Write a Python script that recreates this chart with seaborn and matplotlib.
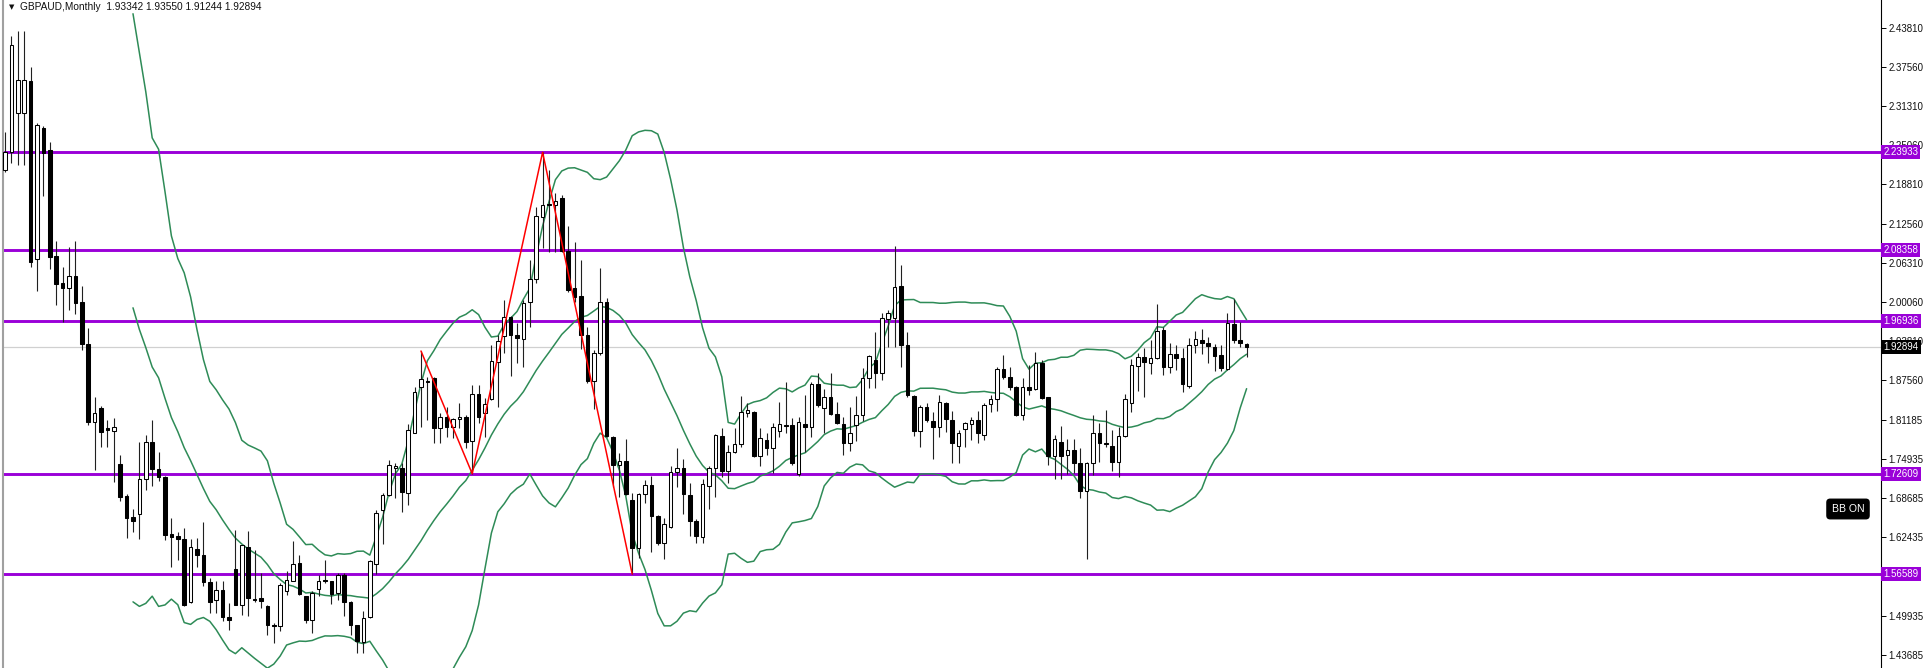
import numpy as np
import pandas as pd
import matplotlib
matplotlib.use("Agg")
import matplotlib.pyplot as plt
import matplotlib.transforms as mtrans
import seaborn as sns

# ---------------- data ----------------
symbol_title = "GBPAUD,Monthly  1.93342 1.93550 1.91244 1.92894"

open_ = [2.2111, 2.2404, 2.3026, 2.3026, 2.3537, 2.0685, 2.2777, 2.2431, 2.0738, 2.0302,
         2.0222, 2.0418, 2.0008, 1.9328, 1.8092, 1.8306, 1.7992, 1.7939, 1.7411, 1.6899,
         1.6573, 1.6613, 1.7172, 1.7771, 1.7341, 1.7205, 1.6300, 1.6267, 1.6218, 1.5219,
         1.6062, 1.5966, 1.5532, 1.5239, 1.5410, 1.4968, 1.5745, 1.5170, 1.6086, 1.5266,
         1.5277, 1.5144, 1.4840, 1.4824, 1.5383, 1.5554, 1.5836, 1.5303, 1.4931, 1.5426,
         1.5564, 1.5543, 1.5357, 1.5649, 1.5213, 1.4840, 1.4574, 1.4968, 1.5820, 1.6687,
         1.6927, 1.7353, 1.7353, 1.6953, 1.7917, 1.8651, 1.8742, 1.8795, 1.7986, 1.8172,
         1.8013, 1.8130, 1.8172, 1.7789, 1.8534, 1.8236, 1.8449, 1.9051, 1.9460, 1.9759,
         1.9476, 1.9407, 2.0009, 2.0366, 2.1366, 2.1568, 2.1552, 2.1659, 2.0823, 2.0222,
         2.0105, 1.9476, 1.8747, 1.9184, 2.0009, 1.7853, 1.7400, 1.7469, 1.6841, 1.6070,
         1.6937, 1.7081, 1.6586, 1.6160, 1.6415, 1.7294, 1.7347, 1.6921, 1.6511, 1.6256,
         1.7065, 1.7347, 1.7863, 1.7310, 1.7613, 1.7730, 1.8225, 1.8252, 1.7544, 1.7800,
         1.7667, 1.7949, 1.8034, 1.8039, 1.7257, 1.8055, 1.8012, 1.8694, 1.8305, 1.8481,
         1.8215, 1.8055, 1.7746, 1.8039, 1.8199, 1.8784, 1.9077, 1.8875, 1.9727, 1.9742,
         2.0259, 1.9317, 1.8502, 1.7949, 1.8332, 1.8108, 1.8013, 1.8385, 1.8119, 1.7704,
         1.7970, 1.8055, 1.8119, 1.7879, 1.8375, 1.8449, 1.8928, 1.8800, 1.8641, 1.8199,
         1.8651, 1.8609, 1.9024, 1.8481, 1.7544, 1.7773, 1.7560, 1.7640, 1.7427, 1.6990,
         1.7427, 1.7906, 1.7757, 1.7704, 1.7454, 1.7864, 1.8396, 1.8981, 1.9120, 1.9034,
         1.9104, 1.9556, 1.8960, 1.9173, 1.9104, 1.8662, 1.9317, 1.9397, 1.9354, 1.9290,
         1.9157, 1.8928, 1.9652, 1.9397, 1.93342]
high = [2.2723, 2.4251, 2.4336, 2.4336, 2.3761, 2.2857, 2.2814, 2.2563, 2.0982, 2.0567,
        2.0877, 2.0982, 2.0259, 1.9583, 1.8481, 1.8342, 1.8119, 1.8146, 1.7560, 1.6937,
        1.6698, 1.7763, 1.7886, 1.8124, 1.7600, 1.7230, 1.6559, 1.6335, 1.6389, 1.6218,
        1.6239, 1.6490, 1.5596, 1.5543, 1.5543, 1.5197, 1.6368, 1.6129, 1.6352, 1.6049,
        1.5676, 1.5160, 1.4878, 1.5516, 1.5713, 1.6182, 1.5969, 1.5310, 1.5383, 1.5649,
        1.5889, 1.5550, 1.5676, 1.5676, 1.5220, 1.4850, 1.5074, 1.5889, 1.6687, 1.6953,
        1.7486, 1.7433, 1.7433, 1.8055, 1.8651, 1.9220, 1.8811, 1.8811, 1.8225, 1.8332,
        1.8146, 1.8385, 1.8199, 1.8678, 1.8678, 1.8465, 1.9317, 1.9476, 2.0035, 1.9780,
        1.9663, 2.0035, 2.0674, 2.1515, 2.23933, 2.2111, 2.1739, 2.1712, 2.1217, 2.0967,
        2.0674, 1.9610, 1.9237, 2.0541, 2.0062, 1.7870, 1.7587, 1.7810, 1.6948, 1.6958,
        1.7161, 1.7225, 1.6600, 1.6549, 1.7384, 1.7667, 1.7491, 1.7118, 1.6530, 1.7171,
        1.7384, 1.7895, 1.7996, 1.7720, 1.7986, 1.8502, 1.8385, 1.8268, 1.7986, 1.7906,
        1.8076, 1.8412, 1.8731, 1.8145, 1.8172, 1.8518, 1.8731, 1.8864, 1.8609, 1.8875,
        1.8412, 1.8172, 1.8332, 1.8502, 1.8944, 1.9157, 1.9530, 1.9822, 1.9876, 2.0898,
        2.0594, 1.9530, 1.8518, 1.8359, 1.8385, 1.8252, 1.8518, 1.8412, 1.8268, 1.7959,
        1.8093, 1.8172, 1.8268, 1.8385, 1.8518, 1.8960, 1.9157, 1.8960, 1.8662, 1.8784,
        1.8997, 1.9210, 1.9077, 1.8492, 1.7879, 1.8026, 1.7810, 1.7810, 1.7667, 1.7454,
        1.8199, 1.8076, 1.8279, 1.7959, 1.8013, 1.8534, 1.9088, 1.9184, 1.9264, 1.9397,
        1.9971, 1.9610, 1.9354, 1.9317, 1.9264, 1.9423, 1.9546, 1.9567, 1.9450, 1.9333,
        1.9317, 1.9822, 2.0046, 1.9689, 1.93550]
low = [2.2080, 2.2223, 2.2191, 2.2191, 2.0567, 2.0179, 2.1696, 2.0526, 1.9955, 1.9689,
       1.9876, 1.9812, 1.9237, 1.8039, 1.7320, 1.7693, 1.7693, 1.7134, 1.6832, 1.6239,
       1.6335, 1.6218, 1.7001, 1.7070, 1.7151, 1.6198, 1.5776, 1.5883, 1.5150, 1.5200,
       1.5776, 1.5471, 1.5037, 1.5037, 1.4904, 1.4771, 1.5160, 1.5010, 1.4984, 1.5213,
       1.5117, 1.4691, 1.4558, 1.4745, 1.5330, 1.5543, 1.5330, 1.4878, 1.4718, 1.5303,
       1.5516, 1.5181, 1.5250, 1.4990, 1.4680, 1.4398, 1.4398, 1.4957, 1.5660, 1.6139,
       1.6900, 1.6874, 1.6650, 1.6757, 1.7906, 1.8013, 1.8119, 1.7746, 1.7746, 1.7853,
       1.7826, 1.7986, 1.7667, 1.72609, 1.8066, 1.7853, 1.8438, 1.8332, 1.9184, 1.8822,
       1.9024, 1.8971, 1.9610, 2.0302, 2.0860, 2.0807, 2.0807, 2.0807, 2.0168, 2.0009,
       1.9247, 1.8705, 1.8289, 1.9157, 1.7853, 1.7054, 1.6895, 1.6921, 1.56589, 1.5910,
       1.6799, 1.6016, 1.6123, 1.5894, 1.6389, 1.7044, 1.6618, 1.6267, 1.6160, 1.6160,
       1.6692, 1.6895, 1.7214, 1.7108, 1.7587, 1.7693, 1.8162, 1.7523, 1.7384, 1.7560,
       1.7267, 1.7842, 1.7906, 1.7400, 1.7225, 1.7613, 1.7853, 1.8332, 1.7909, 1.8199,
       1.8055, 1.7560, 1.7629, 1.7789, 1.8108, 1.8625, 1.8625, 1.8758, 1.9290, 1.9290,
       1.8960, 1.8492, 1.7863, 1.7693, 1.8093, 1.7491, 1.7842, 1.7933, 1.7427, 1.7427,
       1.7693, 1.7799, 1.7746, 1.7799, 1.8252, 1.8268, 1.8768, 1.8598, 1.8183, 1.8119,
       1.8518, 1.8598, 1.8449, 1.7400, 1.7172, 1.7172, 1.7257, 1.7267, 1.6868, 1.5894,
       1.7241, 1.7454, 1.7693, 1.7310, 1.7214, 1.7853, 1.8252, 1.8587, 1.8492, 1.8854,
       1.9088, 1.8838, 1.8864, 1.8917, 1.8571, 1.8625, 1.9194, 1.9173, 1.9035, 1.8907,
       1.8907, 1.8917, 1.9343, 1.9290, 1.91244]
close = [2.2404, 2.4107, 2.3548, 2.3548, 2.0647, 2.2830, 2.2388, 2.0727, 2.0291, 2.0222,
         2.0418, 1.9982, 1.9328, 1.8092, 1.8226, 1.7932, 1.7955, 1.8003, 1.6884, 1.6559,
         1.6511, 1.7172, 1.7771, 1.7341, 1.7205, 1.6287, 1.6252, 1.6218, 1.5165, 1.6083,
         1.5966, 1.5538, 1.5213, 1.5410, 1.4968, 1.4931, 1.5170, 1.6118, 1.5277, 1.5239,
         1.5224, 1.4840, 1.4824, 1.5490, 1.5570, 1.5820, 1.5341, 1.4931, 1.5357, 1.5554,
         1.5543, 1.5341, 1.5649, 1.5213, 1.4840, 1.4585, 1.4957, 1.5862, 1.6634, 1.6927,
         1.7406, 1.7379, 1.6970, 1.7965, 1.8571, 1.8768, 1.8721, 1.7986, 1.8172, 1.8002,
         1.8130, 1.8162, 1.7773, 1.8534, 1.8172, 1.8374, 1.9067, 1.9386, 1.9759, 1.9476,
         1.9423, 1.9993, 2.0366, 2.1382, 2.1552, 2.1547, 2.1616, 2.0823, 2.0195, 2.0089,
         1.9476, 1.8747, 1.9194, 2.0009, 1.7864, 1.7400, 1.7470, 1.6937, 1.6070, 1.6937,
         1.7081, 1.6586, 1.6160, 1.6458, 1.7294, 1.7347, 1.6937, 1.6511, 1.6267, 1.7097,
         1.7347, 1.7880, 1.7310, 1.7613, 1.7730, 1.8252, 1.8279, 1.7544, 1.7826, 1.7667,
         1.8012, 1.8055, 1.8028, 1.7427, 1.8092, 1.8012, 1.8694, 1.8358, 1.8481, 1.8215,
         1.8076, 1.7746, 1.7906, 1.8199, 1.8784, 1.9141, 1.8864, 1.9742, 1.9833, 2.0238,
         1.9317, 1.8518, 1.7949, 1.8332, 1.8119, 1.8013, 1.8412, 1.8130, 1.7746, 1.7917,
         1.8066, 1.8119, 1.7906, 1.8359, 1.8449, 1.8928, 1.8800, 1.8641, 1.8199, 1.8651,
         1.8598, 1.9024, 1.8465, 1.7544, 1.7810, 1.7544, 1.7640, 1.7427, 1.6990, 1.7438,
         1.7906, 1.7746, 1.7736, 1.7454, 1.7864, 1.8449, 1.8997, 1.9120, 1.9050, 1.9104,
         1.9546, 1.8960, 1.9173, 1.9104, 1.8694, 1.9317, 1.9407, 1.9354, 1.9301, 1.9141,
         1.8944, 1.9663, 1.9397, 1.9354, 1.92894]

level_prices = [2.23933, 2.08358, 1.96936, 1.72609, 1.56589]
current_price = 1.92894
zigzag_bar = [65, 73, 84, 98]
zigzag_price = [1.9220, 1.72609, 2.23933, 1.56589]
price_ticks = [2.43810, 2.37560, 2.31310, 2.25060, 2.18810, 2.12560, 2.06310, 2.00060,
               1.93810, 1.87560, 1.81185, 1.74935, 1.68685, 1.62435, 1.49935, 1.43685]
bb_period = 20
bb_dev = 2.0

# ---------------- figure ----------------
sns.set_style("white")
plt.rcParams["font.family"] = ["Liberation Sans", "DejaVu Sans"]

W, H = 1928, 668
fig = plt.figure(figsize=(W / 100, H / 100), dpi=100)
fig.patch.set_facecolor("white")
ax_left, ax_right = 3, 1881
ax = fig.add_axes([ax_left / W, 0, (ax_right - ax_left) / W, 1])
ax.set_facecolor("white")

n = len(close)
df = pd.DataFrame({"bar": np.arange(n), "open": open_, "high": high,
                   "low": low, "close": close})

# Bollinger bands (computed from closes like the terminal does)
mid = df["close"].rolling(bb_period).mean()
sd = df["close"].rolling(bb_period).std(ddof=0)
df["mid"] = mid
df["upper"] = mid + bb_dev * sd
df["lower"] = mid - bb_dev * sd
bb = df[df["bar"] >= bb_period].melt(id_vars="bar", value_vars=["upper", "mid", "lower"],
                                      var_name="band", value_name="price")

# purple levels and current price line
ax.axhline(current_price, color="#d0d0d0", lw=0.9, zorder=1)
for p in level_prices:
    ax.axhline(p, color="#9a00d8", lw=2.1, zorder=2)

sns.lineplot(data=bb, x="bar", y="price", units="band", estimator=None,
             color="#2e8b57", lw=1.1, ax=ax, zorder=3, legend=False)

# candles
up = df["close"] >= df["open"]
ax.vlines(df["bar"], df["low"], df["high"], color="#202020", lw=0.8, zorder=4)
body_bottom = np.minimum(df["open"], df["close"])
body_h = np.maximum((df["close"] - df["open"]).abs(), 0.0006)
ax.bar(df["bar"][up], body_h[up], bottom=body_bottom[up], width=0.56,
       color="white", edgecolor="black", linewidth=0.75, zorder=5)
ax.bar(df["bar"][~up], body_h[~up], bottom=body_bottom[~up], width=0.56,
       color="black", edgecolor="black", linewidth=0.75, zorder=5)

# zigzag
ax.plot(zigzag_bar, zigzag_price, color="#ff0000", lw=1.1, zorder=6)

# axes limits (pixel-matched)
px = 6.4
x0_px = 5.0
ax.set_xlim((ax_left - x0_px) / px, (ax_right - x0_px) / px)
ppu = 626.2
ax.set_ylim(2.23933 - (H - 152.3) / ppu, 2.23933 + 152.3 / ppu)
ax.set_xlabel("")
ax.set_ylabel("")

# spines / ticks
for s in ["top", "bottom"]:
    ax.spines[s].set_visible(False)
ax.spines["left"].set_color("#a0a0a0")
ax.spines["left"].set_linewidth(1.5)
ax.spines["right"].set_color("black")
ax.spines["right"].set_linewidth(0.8)
ax.set_xticks([])
ax.yaxis.tick_right()
ax.set_yticks(price_ticks)
ax.set_yticklabels([f"{t:.5f}" for t in price_ticks])
ax.tick_params(axis="y", which="both", right=True, left=False, length=3.5, width=0.7,
               color="black", labelsize=7, labelcolor="#111111", pad=2)

# price labels on the right scale
trans = mtrans.blended_transform_factory(ax.transAxes, ax.transData)
for p in level_prices:
    ax.text(1.0012, p, f"{p:.5f}", transform=trans, ha="left", va="center",
            fontsize=7, color="white", clip_on=False, zorder=20,
            bbox=dict(boxstyle="square,pad=0.22", fc="#9a00d8", ec="none"))
ax.text(1.0012, current_price, f"{current_price:.5f}", transform=trans, ha="left", va="center",
        fontsize=7, color="white", clip_on=False, zorder=20,
        bbox=dict(boxstyle="square,pad=0.22", fc="black", ec="none"))

# title and BB ON badge
fig.text(9 / W, 1 - 7 / H, "\u25BC", fontsize=5, color="#111111", va="center", ha="left",
         family=["DejaVu Sans"])
fig.text(20 / W, 1 - 7.5 / H, symbol_title, fontsize=7.3, color="#111111", va="center", ha="left")
fig.text(1848 / W, 1 - 509 / H, "BB ON", fontsize=7.6, color="white", va="center", ha="center",
         bbox=dict(boxstyle="round,pad=0.45,rounding_size=0.3", fc="black", ec="black"))

fig.savefig("out.png", dpi=100, facecolor="white")
